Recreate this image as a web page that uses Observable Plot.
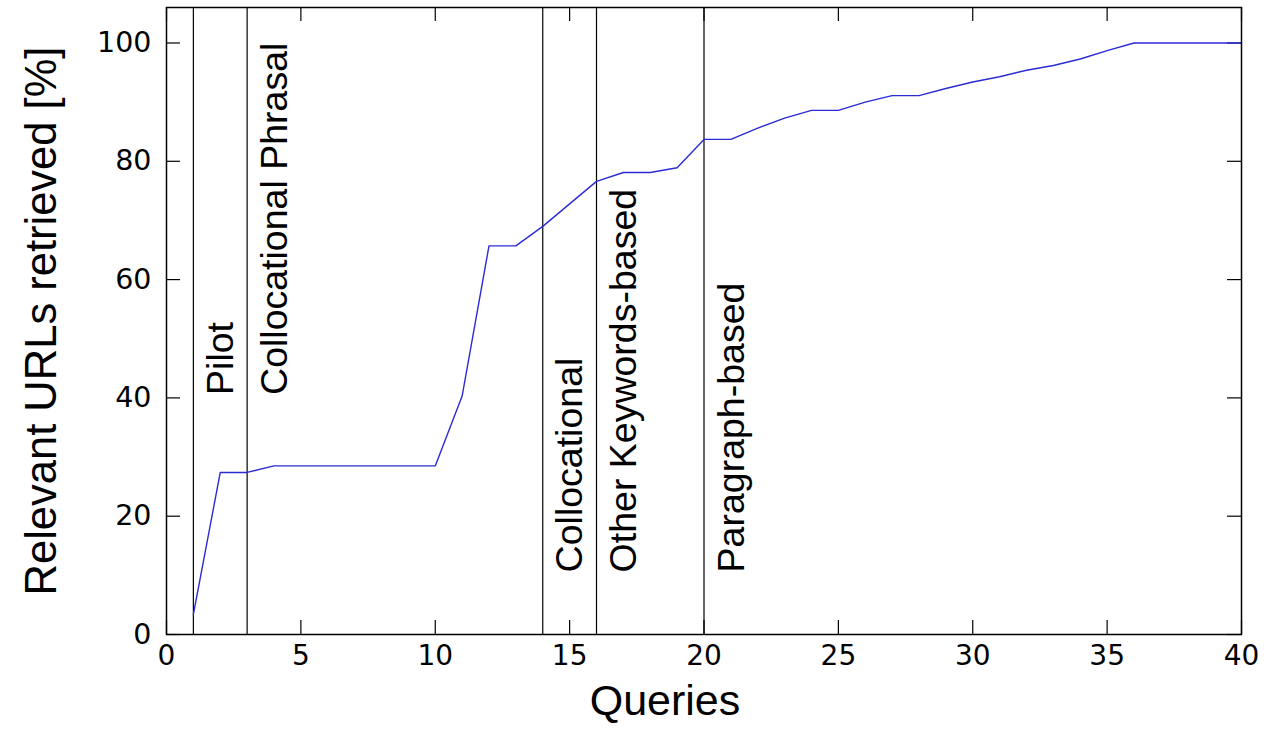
<!DOCTYPE html>
<html><head><meta charset="utf-8">
<script src="https://cdn.jsdelivr.net/npm/d3@7"></script>
<script src="https://cdn.jsdelivr.net/npm/@observablehq/plot@0.6"></script>
<style>body{margin:0;background:#fff}</style>
</head><body><div id="chart"></div>
<script>
const queries = [1,2,3,4,5,6,7,8,9,10,11,12,13,14,15,16,17,18,19,20,21,22,23,24,25,26,27,28,29,30,31,32,33,34,35,36,37,38,39,40];
const retrieved = [3.4,27.4,27.4,28.5,28.5,28.5,28.5,28.5,28.5,28.5,40.3,65.7,65.7,69.0,72.8,76.6,78.1,78.1,78.9,83.7,83.7,85.6,87.3,88.6,88.6,90.0,91.1,91.1,92.3,93.4,94.3,95.4,96.2,97.3,98.7,100,100,100,100,100];
const phaseStarts = [1,3,14,16,20];
const phaseNames = ["Pilot","Collocational Phrasal","Collocational","Other Keywords-based","Paragraph-based"];
const phaseLabelY = [40.5,40.5,10.5,10.5,10.5];
const xTicks = [0,5,10,15,20,25,30,35,40];
const yTicks = [0,20,40,60,80,100];

const data = queries.map((q,i)=>({q, v: retrieved[i]}));
const phases = phaseStarts.map((s,i)=>({s, name: phaseNames[i], y: phaseLabelY[i]}));

const W=1267,H=737, mL=166, mR=26, mT=7, mB=103;
const fw = W-mL-mR, fh = H-mT-mB;
const T = 14;
const sans = "Liberation Sans, Arial, sans-serif";
const tickFont = "DejaVu Sans, sans-serif";

const chart = Plot.plot({
  width: W, height: H, marginLeft: mL, marginRight: mR, marginTop: mT, marginBottom: mB,
  style: {background: "white", color: "black"},
  x: {domain: [0, 40]},
  y: {domain: [0, 106]},
  marks: [
    Plot.axisX(xTicks, {tickSize: 0, tickPadding: 11, fontSize: 28, fontFamily: tickFont, label: null}),
    Plot.axisY(yTicks, {tickSize: 0, tickPadding: 15, fontSize: 28.5, fontFamily: tickFont, label: null}),
    Plot.tickX(xTicks, {x: d => d, insetTop: fh - T, stroke: "black", strokeWidth: 1.2}),
    Plot.tickX(xTicks, {x: d => d, insetBottom: fh - T, stroke: "black", strokeWidth: 1.2}),
    Plot.tickY(yTicks, {y: d => d, insetRight: fw - T, stroke: "black", strokeWidth: 1.2}),
    Plot.tickY(yTicks, {y: d => d, insetLeft: fw - T, stroke: "black", strokeWidth: 1.2}),
    Plot.ruleX(phases, {x: "s", stroke: "black", strokeWidth: 1.2}),
    Plot.line(data, {x: "q", y: "v", stroke: "#2b2bd6", strokeWidth: 1.4}),
    Plot.text(phases, {x: "s", y: "y", text: "name", rotate: -90, textAnchor: "start", lineAnchor: "top", dx: 13, fontSize: 37.5, fontFamily: sans, fill: "black"}),
    Plot.frame({stroke: "black", strokeWidth: 1.5}),
    Plot.text(["Queries"], {frameAnchor: "bottom", dy: 67, dx: -39, fontSize: 43, fontFamily: sans, fill: "black", textAnchor: "middle", lineAnchor: "middle"}),
    Plot.text(["Relevant URLs retrieved [%]"], {frameAnchor: "left", dx: -124, rotate: -90, fontSize: 43.5, fontFamily: sans, fill: "black", textAnchor: "middle", lineAnchor: "middle"})
  ]
});
document.getElementById("chart").append(chart);
</script>
</body></html>
